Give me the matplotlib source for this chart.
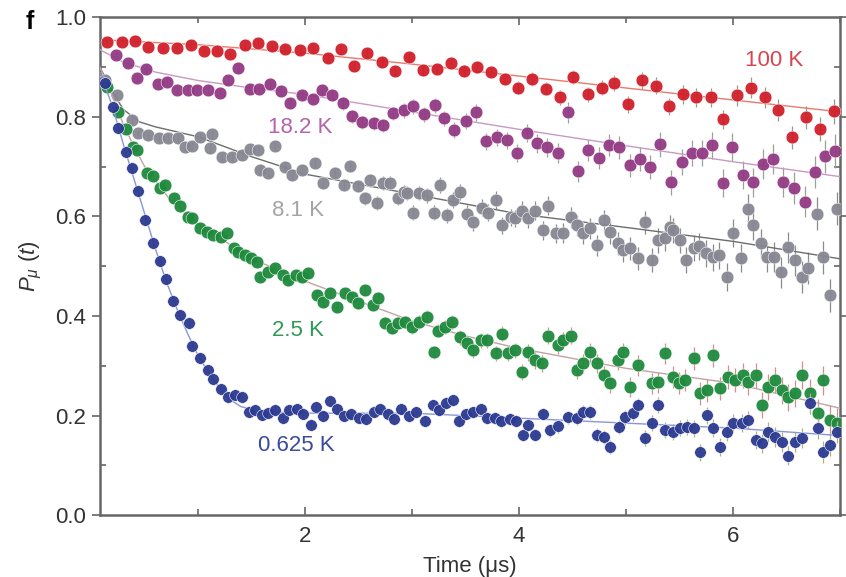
import numpy as np
import matplotlib
matplotlib.use('Agg')
from matplotlib import pyplot as plt
from matplotlib.ticker import MultipleLocator, FormatStrFormatter

plt.rcParams['font.family'] = ['Liberation Sans', 'DejaVu Sans']
plt.rcParams['mathtext.fontset'] = 'custom'
plt.rcParams['mathtext.rm'] = 'Liberation Sans'
plt.rcParams['mathtext.it'] = 'Liberation Sans:italic'

# muon polarisation P(t) at each temperature
t_100 = [0.15, 0.29, 0.41, 0.53, 0.67, 0.80, 0.93, 1.05, 1.18, 1.30,
         1.44, 1.56, 1.69, 1.81, 1.95, 2.07, 2.21, 2.33, 2.46, 2.58,
         2.72, 2.84, 2.97, 3.10, 3.23, 3.36, 3.48, 3.61, 3.74, 3.87,
         3.99, 4.12, 4.25, 4.38, 4.50, 4.64, 4.77, 4.89, 5.02, 5.15,
         5.28, 5.40, 5.53, 5.65, 5.79, 5.91, 6.04, 6.17, 6.30, 6.42,
         6.55, 6.68, 6.81, 6.94]
p_100 = [0.950, 0.950, 0.952, 0.940, 0.938, 0.938, 0.944, 0.932, 0.932, 0.926,
         0.944, 0.948, 0.942, 0.936, 0.934, 0.938, 0.918, 0.936, 0.902, 0.928,
         0.910, 0.892, 0.920, 0.894, 0.896, 0.908, 0.892, 0.900, 0.890, 0.876,
         0.859, 0.876, 0.857, 0.839, 0.880, 0.845, 0.859, 0.869, 0.825, 0.874,
         0.863, 0.821, 0.845, 0.839, 0.839, 0.795, 0.843, 0.859, 0.839, 0.813,
         0.759, 0.799, 0.775, 0.811]

t_18 = [0.23, 0.34, 0.43, 0.51, 0.62, 0.71, 0.80, 0.90, 0.99, 1.09,
        1.20, 1.28, 1.37, 1.48, 1.57, 1.67, 1.77, 1.86, 1.97, 2.07,
        2.16, 2.25, 2.35, 2.44, 2.53, 2.64, 2.73, 2.82, 2.92, 3.01,
        3.11, 3.21, 3.30, 3.39, 3.50, 3.60, 3.69, 3.79, 3.89, 3.98,
        4.07, 4.17, 4.26, 4.36, 4.46, 4.55, 4.64, 4.75, 4.84, 4.93,
        5.04, 5.13, 5.22, 5.32, 5.42, 5.52, 5.62, 5.71, 5.80, 5.91,
        5.99, 6.09, 6.19, 6.28, 6.37, 6.47, 6.57, 6.67, 6.77, 6.86,
        6.95]
p_18 = [0.924, 0.908, 0.878, 0.896, 0.867, 0.871, 0.855, 0.855, 0.855, 0.855,
        0.849, 0.875, 0.898, 0.857, 0.857, 0.867, 0.853, 0.827, 0.843, 0.835,
        0.855, 0.843, 0.827, 0.801, 0.789, 0.787, 0.783, 0.807, 0.813, 0.821,
        0.805, 0.823, 0.797, 0.773, 0.791, 0.809, 0.751, 0.759, 0.753, 0.727,
        0.767, 0.747, 0.739, 0.727, 0.809, 0.691, 0.733, 0.717, 0.743, 0.739,
        0.703, 0.715, 0.699, 0.745, 0.669, 0.709, 0.727, 0.727, 0.743, 0.667,
        0.739, 0.683, 0.669, 0.705, 0.715, 0.669, 0.657, 0.630, 0.689, 0.721,
        0.731]

t_8 = [0.13, 0.24, 0.38, 0.44, 0.53, 0.63, 0.72, 0.81, 0.88, 0.94, 1.02,
       1.11, 1.13, 1.22, 1.32, 1.41, 1.48, 1.56, 1.58, 1.65, 1.72,
       1.81, 1.88, 1.97, 2.09, 2.17, 2.28, 2.36, 2.42, 2.49, 2.56,
       2.61, 2.67, 2.73, 2.79, 2.87, 2.92, 2.95, 3.01, 3.06, 3.14,
       3.20, 3.26, 3.33, 3.38, 3.45, 3.51, 3.57, 3.65, 3.71, 3.78,
       3.84, 3.92, 3.96, 4.03, 4.08, 4.15, 4.22, 4.27, 4.34, 4.41,
       4.48, 4.54, 4.60, 4.66, 4.73, 4.79, 4.85, 4.92, 4.97, 5.04,
       5.11, 5.18, 5.24, 5.30, 5.36, 5.41, 5.44, 5.50, 5.56, 5.63,
       5.68, 5.75, 5.81, 5.87, 5.94, 6.00, 6.07, 6.14, 6.19, 6.26,
       6.32, 6.38, 6.45, 6.51, 6.58, 6.64, 6.70, 6.78, 6.84, 6.91,
       6.97]
p_8 = [0.875, 0.843, 0.793, 0.767, 0.763, 0.757, 0.757, 0.757, 0.739, 0.741, 0.759,
       0.737, 0.765, 0.719, 0.719, 0.723, 0.735, 0.733, 0.693, 0.687, 0.741,
       0.699, 0.683, 0.693, 0.707, 0.667, 0.687, 0.663, 0.701, 0.661, 0.637,
       0.673, 0.627, 0.667, 0.667, 0.637, 0.649, 0.647, 0.608, 0.647, 0.643,
       0.608, 0.663, 0.602, 0.633, 0.649, 0.606, 0.588, 0.618, 0.608, 0.633,
       0.582, 0.598, 0.596, 0.612, 0.596, 0.612, 0.572, 0.622, 0.566, 0.566,
       0.598, 0.582, 0.566, 0.576, 0.542, 0.592, 0.568, 0.546, 0.532, 0.536,
       0.516, 0.588, 0.512, 0.552, 0.556, 0.578, 0.572, 0.552, 0.512, 0.536,
       0.540, 0.526, 0.518, 0.522, 0.478, 0.566, 0.516, 0.616, 0.582, 0.546,
       0.518, 0.518, 0.488, 0.538, 0.512, 0.478, 0.496, 0.606, 0.518, 0.442,
       0.616]

t_25 = [0.15, 0.25, 0.32, 0.39, 0.43, 0.52, 0.58, 0.64, 0.69, 0.77, 0.83,
        0.90, 0.94, 1.02, 1.08, 1.14, 1.21, 1.27, 1.33, 1.37, 1.44,
        1.49, 1.55, 1.58, 1.65, 1.72, 1.79, 1.84, 1.91, 1.97, 2.03,
        2.11, 2.17, 2.23, 2.30, 2.37, 2.44, 2.49, 2.56, 2.63, 2.68,
        2.75, 2.81, 2.87, 2.93, 3.00, 3.06, 3.14, 3.20, 3.24, 3.31,
        3.37, 3.45, 3.51, 3.57, 3.64, 3.70, 3.78, 3.84, 3.90, 3.96,
        4.03, 4.08, 4.15, 4.21, 4.27, 4.36, 4.41, 4.48, 4.54, 4.60,
        4.66, 4.73, 4.79, 4.85, 4.92, 4.97, 5.04, 5.11, 5.24, 5.30,
        5.36, 5.44, 5.49, 5.55, 5.63, 5.69, 5.76, 5.81, 5.88, 5.95,
        6.02, 6.09, 6.14, 6.21, 6.27, 6.33, 6.39, 6.46, 6.51, 6.58,
        6.64, 6.72, 6.79, 6.84, 6.91, 6.97]
p_25 = [0.860, 0.809, 0.775, 0.739, 0.733, 0.687, 0.681, 0.657, 0.663, 0.637, 0.622,
        0.598, 0.596, 0.576, 0.568, 0.562, 0.558, 0.566, 0.536, 0.528, 0.522,
        0.516, 0.508, 0.478, 0.488, 0.496, 0.482, 0.472, 0.482, 0.478, 0.486,
        0.442, 0.428, 0.446, 0.418, 0.446, 0.438, 0.426, 0.452, 0.422, 0.436,
        0.386, 0.376, 0.386, 0.388, 0.378, 0.388, 0.398, 0.327, 0.371, 0.378,
        0.388, 0.357, 0.345, 0.331, 0.351, 0.351, 0.325, 0.365, 0.325, 0.331,
        0.287, 0.327, 0.311, 0.305, 0.361, 0.341, 0.351, 0.361, 0.291, 0.305,
        0.327, 0.305, 0.281, 0.265, 0.311, 0.327, 0.257, 0.301, 0.265, 0.267,
        0.325, 0.277, 0.265, 0.271, 0.315, 0.245, 0.251, 0.321, 0.255, 0.277,
        0.271, 0.281, 0.267, 0.281, 0.221, 0.257, 0.271, 0.251, 0.237, 0.245,
        0.281, 0.245, 0.205, 0.271, 0.191, 0.185]

t_06 = [0.13, 0.20, 0.25, 0.32, 0.38, 0.44, 0.50, 0.58, 0.64, 0.70,
        0.76, 0.83, 0.91, 0.94, 1.02, 1.09, 1.14, 1.21, 1.28, 1.34,
        1.41, 1.47, 1.53, 1.60, 1.65, 1.72, 1.79, 1.85, 1.92, 1.98,
        2.05, 2.10, 2.17, 2.23, 2.30, 2.36, 2.43, 2.50, 2.57, 2.64,
        2.70, 2.77, 2.83, 2.90, 2.97, 3.04, 3.12, 3.19, 3.25, 3.32,
        3.38, 3.44, 3.50, 3.57, 3.64, 3.70, 3.77, 3.83, 3.91, 3.97,
        4.04, 4.08, 4.15, 4.22, 4.29, 4.36, 4.46, 4.54, 4.60, 4.66,
        4.73, 4.79, 4.85, 4.93, 4.99, 5.06, 5.11, 5.18, 5.24, 5.30,
        5.36, 5.44, 5.50, 5.57, 5.63, 5.69, 5.76, 5.81, 5.88, 5.94,
        6.00, 6.08, 6.14, 6.21, 6.27, 6.33, 6.39, 6.46, 6.51, 6.58,
        6.64, 6.72, 6.79, 6.84, 6.91, 6.97]
p_06 = [0.869, 0.819, 0.777, 0.729, 0.697, 0.651, 0.592, 0.546, 0.510, 0.474,
        0.430, 0.402, 0.386, 0.339, 0.315, 0.291, 0.273, 0.253, 0.237, 0.241,
        0.237, 0.207, 0.211, 0.201, 0.205, 0.211, 0.195, 0.211, 0.213, 0.203,
        0.181, 0.217, 0.199, 0.229, 0.213, 0.199, 0.203, 0.195, 0.193, 0.207,
        0.213, 0.203, 0.193, 0.213, 0.199, 0.207, 0.189, 0.221, 0.211, 0.225,
        0.231, 0.189, 0.203, 0.207, 0.213, 0.195, 0.195, 0.189, 0.193, 0.189,
        0.161, 0.181, 0.161, 0.203, 0.171, 0.179, 0.197, 0.195, 0.207, 0.207,
        0.161, 0.157, 0.137, 0.177, 0.197, 0.205, 0.221, 0.155, 0.185, 0.221,
        0.171, 0.167, 0.175, 0.177, 0.175, 0.127, 0.201, 0.175, 0.137, 0.167,
        0.185, 0.185, 0.191, 0.151, 0.145, 0.167, 0.157, 0.147, 0.120, 0.147,
        0.155, 0.225, 0.175, 0.127, 0.141, 0.167]

# statistical error bars grow with time; size read at a few times
err_t = [0.0, 2.0, 4.0, 6.0, 7.0]
err_100 = [0.004, 0.008, 0.013, 0.020, 0.025]
err_18 = [0.006, 0.011, 0.018, 0.028, 0.034]
err_8 = [0.006, 0.011, 0.018, 0.028, 0.034]
err_25 = [0.005, 0.010, 0.016, 0.024, 0.030]
err_06 = [0.004, 0.008, 0.012, 0.018, 0.022]

# fitted relaxation curves
fit_t_100 = [0.08, 1.0, 2.0, 3.0, 4.0, 5.0, 6.0, 7.0]
fit_p_100 = [0.955, 0.945, 0.928, 0.906, 0.882, 0.858, 0.834, 0.810]
fit_t_18 = [0.08, 0.3, 0.6, 1.0, 1.5, 2.0, 3.0, 4.0, 5.0, 6.0, 7.0]
fit_p_18 = [0.935, 0.910, 0.890, 0.873, 0.858, 0.845, 0.810, 0.775, 0.742, 0.710, 0.680]
fit_t_8 = [0.08, 0.2, 0.3, 0.45, 0.6, 0.8, 1.0, 1.5, 2.0, 3.0, 4.0, 5.0, 6.0, 7.0]
fit_p_8 = [0.900, 0.850, 0.815, 0.790, 0.780, 0.770, 0.760, 0.720, 0.685, 0.645,
           0.605, 0.578, 0.550, 0.515]
fit_t_25 = [0.08, 0.2, 0.3, 0.4, 0.5, 0.75, 1.0, 1.25, 1.5, 2.0, 2.5, 3.0,
            3.5, 4.0, 5.0, 6.0, 6.5, 7.0]
fit_p_25 = [0.900, 0.840, 0.785, 0.740, 0.700, 0.630, 0.585, 0.550, 0.515, 0.470,
            0.430, 0.390, 0.360, 0.335, 0.295, 0.265, 0.240, 0.215]
fit_t_06 = [0.08, 0.2, 0.3, 0.4, 0.5, 0.6, 0.7, 0.8, 0.9, 1.0, 1.1, 1.2, 1.3,
            1.4, 1.6, 2.0, 3.0, 4.0, 5.0, 6.0, 7.0]
fit_p_06 = [0.890, 0.820, 0.745, 0.675, 0.605, 0.535, 0.470, 0.415, 0.365, 0.320,
            0.285, 0.255, 0.232, 0.218, 0.208, 0.205, 0.205, 0.195, 0.185, 0.175,
            0.160]

labels = ['100 K', '18.2 K', '8.1 K', '2.5 K', '0.625 K']
label_pos = [(6.11, 0.914), (1.65, 0.779), (1.69, 0.612), (1.69, 0.371), (1.56, 0.141)]

series = [
    (t_100, p_100, err_100, fit_t_100, fit_p_100, '#d11f2b', '#e87a6c', '#8f9c8c', '#d9454f'),
    (t_18, p_18, err_18, fit_t_18, fit_p_18, '#923a84', '#c79ac4', '#98a396', '#b562aa'),
    (t_8, p_8, err_8, fit_t_8, fit_p_8, '#868792', '#6d6d6d', '#8a8a8a', '#a4a4a8'),
    (t_25, p_25, err_25, fit_t_25, fit_p_25, '#1f8a3d', '#c2a3a3', '#d48c8c', '#2f9a55'),
    (t_06, p_06, err_06, fit_t_06, fit_p_06, '#2c3a91', '#8797d6', '#b0b07a', '#3a4a9e'),
]

fig = plt.figure(figsize=(8.46, 5.77), dpi=100)
ax = fig.add_axes([0.118, 0.107, 0.875, 0.863])

for i, (t, p, e, ft, fp, col, lcol, ecol, tcol) in enumerate(series):
    t = np.array(t)
    err = np.interp(t, err_t, e)
    ms = 8.4 if i == 4 else 9.2
    ax.errorbar(t, p, yerr=err, fmt='none', ecolor=ecol, elinewidth=0.9,
                capsize=0, zorder=2 + i)
    ax.plot(ft, fp, color=lcol, lw=1.0, zorder=2.5 + i)
    ax.plot(t, p, 'o', ms=ms, color=col, mec='#ffffff', mew=0.4,
            alpha=0.95, zorder=3 + i)
    ax.text(label_pos[i][0], label_pos[i][1], labels[i], color=tcol,
            fontsize=16, ha='left', va='center')

ax.set_xlim(0.08, 7.0)
ax.set_ylim(0.0, 1.0)
ax.xaxis.set_major_locator(MultipleLocator(2))
ax.xaxis.set_minor_locator(MultipleLocator(1))
ax.yaxis.set_major_locator(MultipleLocator(0.2))
ax.yaxis.set_minor_locator(MultipleLocator(0.1))
ax.yaxis.set_major_formatter(FormatStrFormatter('%.1f'))

for s in ax.spines.values():
    s.set_color('#666666')
    s.set_linewidth(1.8)

ax.tick_params(axis='both', which='both', colors='#666666', labelcolor='#333333',
               labelsize=16, top=True, right=True, width=1.2)
ax.tick_params(axis='y', which='major', direction='out', length=6, pad=4)
ax.tick_params(axis='y', which='minor', direction='in', length=4)
ax.tick_params(axis='x', which='major', direction='in', length=6, pad=8)
ax.tick_params(axis='x', which='minor', direction='in', length=4)
ax.tick_params(axis='y', which='both', right=True, labelright=False)

ax.set_xlabel('Time (μs)', fontsize=16, color='#333333', labelpad=6)
ax.set_ylabel(r'$P_\mu\ (t)$', fontsize=16, color='#333333', labelpad=8)

fig.text(0.035, 0.962, 'f', fontsize=18, fontweight='bold', ha='center', va='center')

fig.savefig('out.png', dpi=100)
